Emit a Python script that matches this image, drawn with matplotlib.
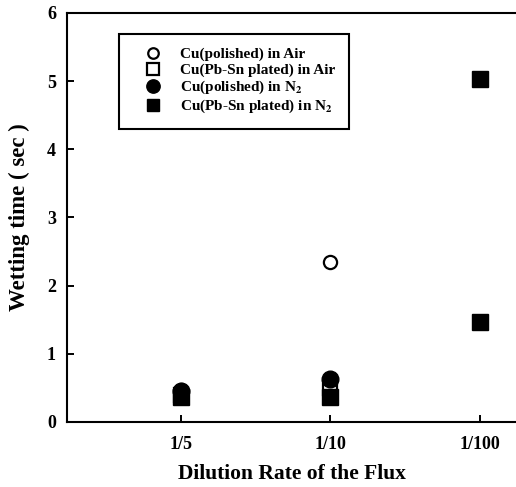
# Wetting time vs dilution rate of the flux

import numpy as np
import matplotlib
matplotlib.use('Agg')
import matplotlib.pyplot as plt

plt.rcParams['font.family'] = ['Liberation Serif', 'DejaVu Serif']
plt.rcParams['font.weight'] = 'bold'
plt.rcParams['mathtext.fontset'] = 'stix'

dilution = ['1/5', '1/10', '1/100']

# wetting time (sec)
cu_pol_air = [0.47, 2.35]          # open circles
cu_pbsn_air = [0.40, 0.50]         # open squares
cu_pol_n2 = [0.46, 0.63]           # filled circles
cu_pbsn_n2 = [0.36, 0.36, 5.03, 1.47]  # filled squares
pbsn_n2_cat = ['1/5', '1/10', '1/100', '1/100']

xpos = {c: i + 1 for i, c in enumerate(dilution)}

fig = plt.figure(figsize=(5.16, 4.87), dpi=100)
ax = fig.add_axes([0.130, 0.1335, 0.870, 0.840])

ax.plot([xpos[c] for c in dilution[:2]], cu_pol_air, 'o', ls='none',
        mfc='white', mec='black', mew=1.6, ms=9.5, zorder=2,
        label='Cu(polished) in Air')
ax.plot([xpos[c] for c in dilution[:2]], cu_pbsn_air, 's', ls='none',
        mfc='white', mec='black', mew=1.6, ms=10.5, zorder=2,
        label='Cu(Pb-Sn plated) in Air')
ax.plot([xpos[c] for c in dilution[:2]], cu_pol_n2, 'o', ls='none',
        mfc='black', mec='black', ms=12, zorder=3,
        label=r'Cu(polished) in N$_\mathbf{2}$')
ax.plot([xpos[c] for c in pbsn_n2_cat], cu_pbsn_n2, 's', ls='none',
        mfc='black', mec='black', ms=11, zorder=3,
        label=r'Cu(Pb-Sn plated) in N$_\mathbf{2}$')

ax.set_xlim(0.24, 3.24)
ax.set_ylim(0, 6)
ax.set_xticks([xpos[c] for c in dilution])
ax.set_xticklabels(dilution)
ax.set_yticks(np.arange(0, 7, 1))

ax.spines['right'].set_visible(False)
for s in ['left', 'bottom', 'top']:
    ax.spines[s].set_linewidth(1.5)
ax.tick_params(direction='in', length=5, width=1.4, labelsize=13, pad=10)
ax.tick_params(axis='y', pad=8)
ax.tick_params(top=False, right=False)

ax.set_xlabel('Dilution Rate of the Flux', fontsize=15.5, fontweight='bold', labelpad=8)
ax.set_ylabel('Wetting time ( sec )', fontsize=16.5, fontweight='bold', labelpad=12)

leg = ax.legend(loc='upper left', bbox_to_anchor=(0.116, 0.949), borderaxespad=0,
                fancybox=False, edgecolor='black', framealpha=1,
                markerscale=0.8, borderpad=0.9, labelspacing=0.12,
                handlelength=2.6, handletextpad=0.5,
                prop={'weight': 'bold', 'size': 11})
leg.get_frame().set_linewidth(1.5)

fig.savefig('out.png', dpi=100)
